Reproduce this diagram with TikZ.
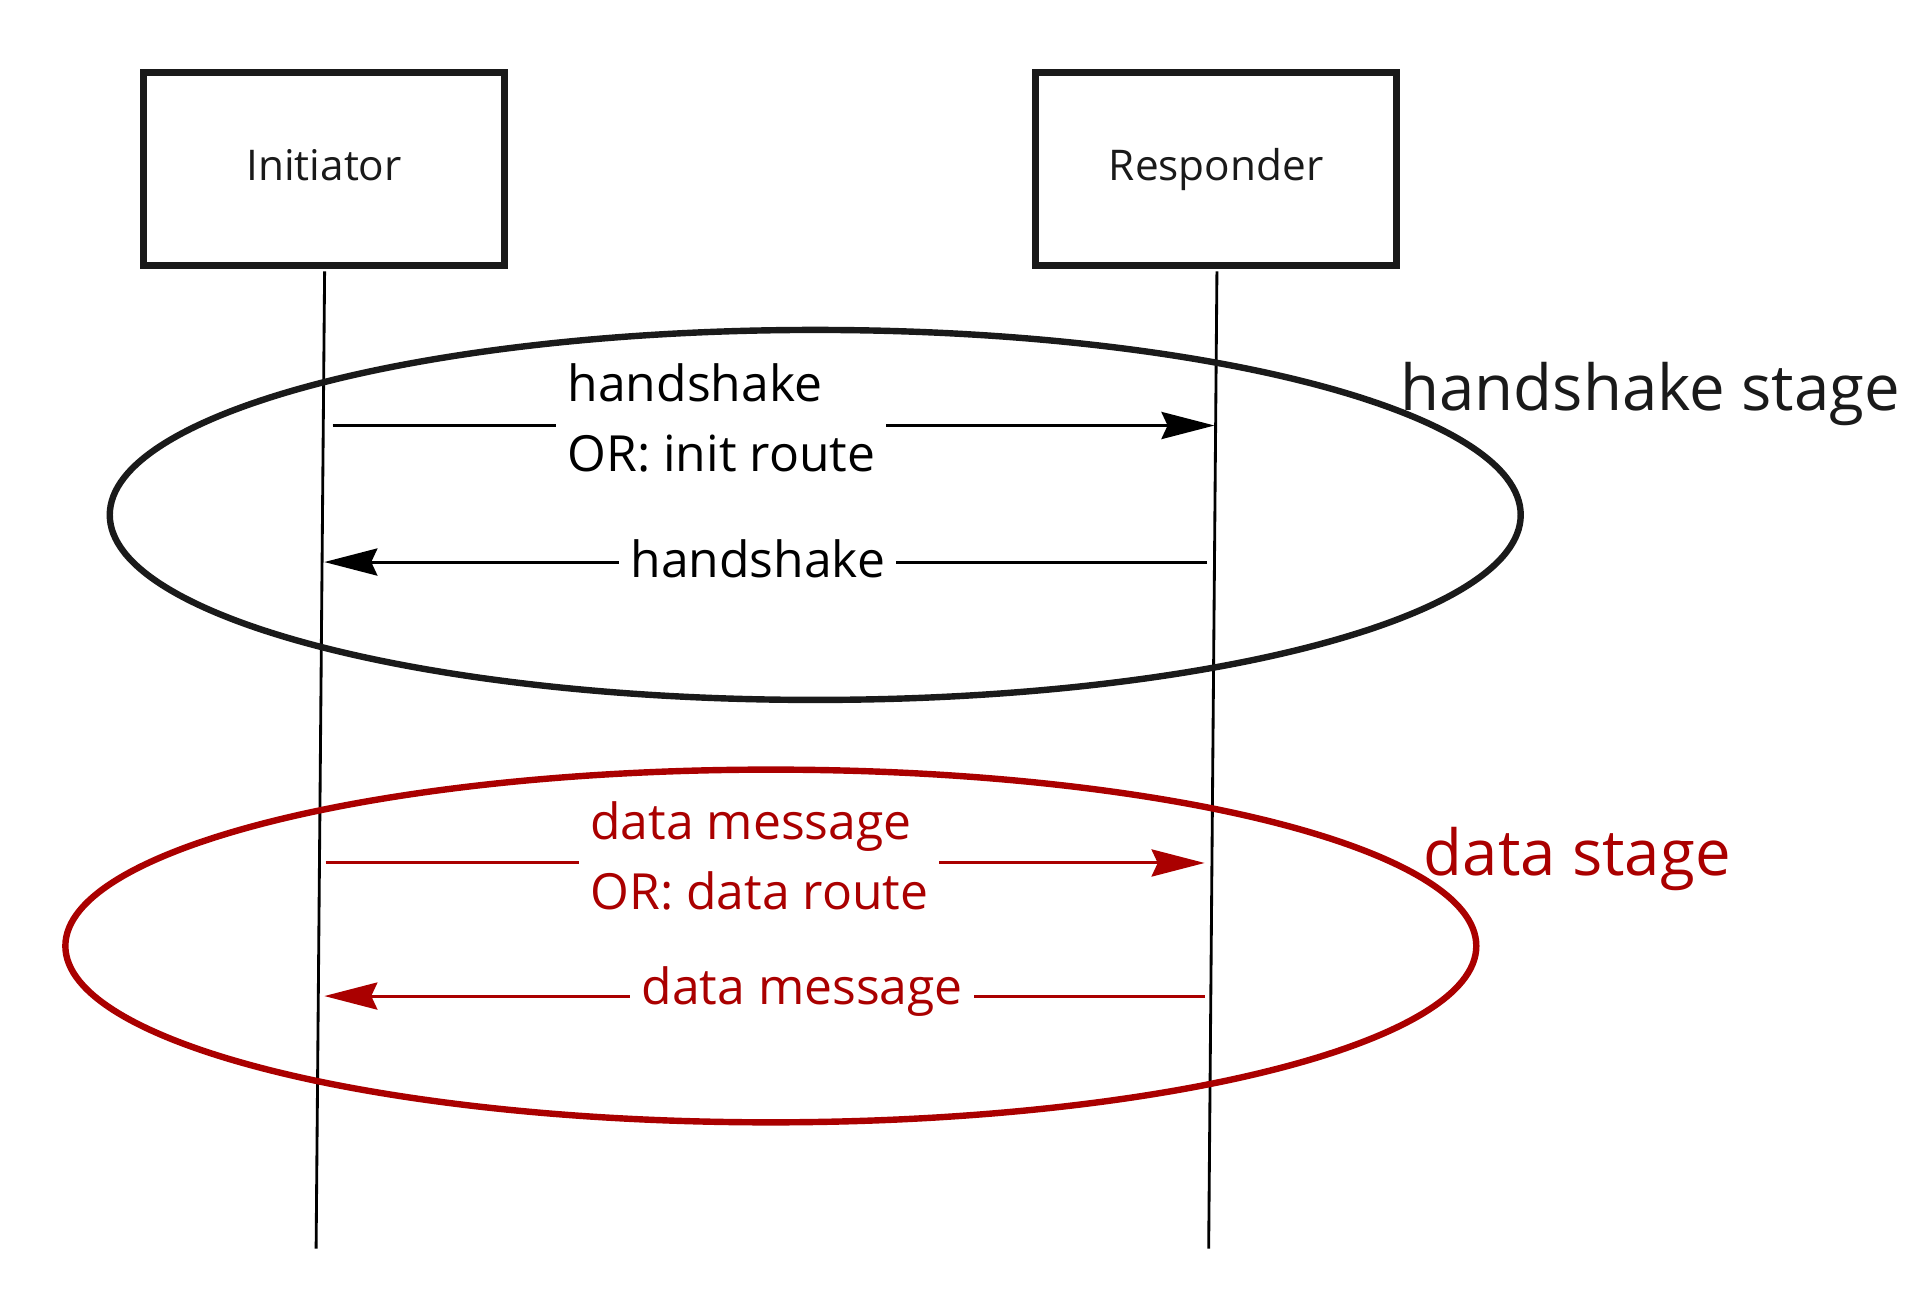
\documentclass[tikz,border=0pt]{standalone}
\usepackage{fontspec}
\setmainfont{Open Sans}
\usetikzlibrary{arrows.meta}
\definecolor{ink}{HTML}{1A1A1A}
\definecolor{dred}{HTML}{AA0000}
\tikzset{
  actor/.style={draw=ink, line width=5.5pt, minimum width=292.5pt, minimum height=156.5pt, text=ink, font=\fontsize{34.3}{40}\selectfont, inner sep=0pt, text height=24.3pt, text depth=6.3pt},
  lifeline/.style={draw=black, line width=2.3pt},
  msg/.style={line width=2.4pt, -{Stealth[length=43pt, width=22pt, inset=5pt]}},
  msglabel/.style={fill=white, inner xsep=9pt, inner ysep=2pt, anchor=west},
  hsfont/.style={font=\fontsize{40.4}{56.5}\selectfont},
  dsfont/.style={font=\fontsize{40.4}{57.5}\selectfont},
  stage/.style={line width=5.2pt},
  stagelabel/.style={font=\fontsize{51.5}{60}\selectfont, inner sep=0pt, anchor=base west}
}
\begin{document}
\begin{tikzpicture}[x=1pt, y=-1pt]
\useasboundingbox (0,0) rectangle (1560,1050);
% actors
\node[actor] (init) at (262.75,137) {Initiator};
\node[actor] (resp) at (986,137) {Responder};
% lifelines
\coordinate (initTop) at (263.2,220);
\coordinate (initBot) at (256.3,1012.4);
\coordinate (respTop) at (986.7,220);
\coordinate (respBot) at (980,1012.4);
\draw[lifeline] (initTop) -- (initBot);
\draw[lifeline] (respTop) -- (respBot);
% stages
\draw[stage, draw=ink] (661,417.5) ellipse [x radius=572, y radius=150];
\draw[stage, draw=dred] (625,767) ellipse [x radius=572, y radius=143];
\node[stagelabel, text=ink] (hsl) at (1135.4,333) {handshake stage};
\node[stagelabel, text=dred] (dsl) at (1154.2,709.5) {data stage};
% handshake messages
\coordinate (m1a) at (269.7,345);
\coordinate (m1b) at (984.7,345);
\draw[msg, draw=black, fill=black] (m1a) -- (m1b);
\node[msglabel, hsfont, align=left, text=black] (l1) at (451,339) {handshake\\OR: init route};
\coordinate (m2a) at (978.7,455.7);
\coordinate (m2b) at (263,455.7);
\draw[msg, draw=black, fill=black] (m2a) -- (m2b);
\node[msglabel, hsfont, text=black] (l2) at (502,452.7) {handshake};
% data messages
\coordinate (m3a) at (264,699.7);
\coordinate (m3b) at (976.7,699.7);
\draw[msg, draw=dred, fill=dred] (m3a) -- (m3b);
\node[msglabel, dsfont, align=left, text=dred] (l3) at (469.5,694) {data message\\OR: data route};
\coordinate (m4a) at (977,807.6);
\coordinate (m4b) at (263,807.6);
\draw[msg, draw=dred, fill=dred] (m4a) -- (m4b);
\node[msglabel, dsfont, text=dred] (l4) at (511,803.6) {data message};
\end{tikzpicture}
\end{document}
